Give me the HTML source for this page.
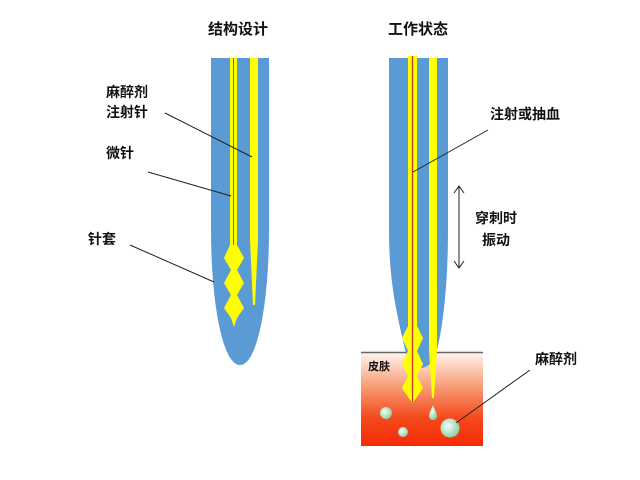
<!DOCTYPE html>
<html><head><meta charset="utf-8"><style>
html,body{margin:0;padding:0;background:#fff;width:640px;height:480px;overflow:hidden}
</style></head><body>
<svg width="640" height="480" viewBox="0 0 640 480" xmlns="http://www.w3.org/2000/svg" font-family="'Liberation Sans','Noto Sans CJK SC',sans-serif" font-weight="bold">
<defs>
<linearGradient id="skin" x1="0" y1="0" x2="0" y2="1">
<stop offset="0" stop-color="#fff6f0"/><stop offset="0.35" stop-color="#f7a07a"/><stop offset="0.7" stop-color="#f44a1c"/><stop offset="1" stop-color="#f52a05"/>
</linearGradient>
<radialGradient id="bub" cx="0.4" cy="0.4" r="0.6">
<stop offset="0" stop-color="#f4fff8"/><stop offset="1" stop-color="#8fcfa8"/>
</radialGradient>
</defs>
<text x="238" y="34" font-size="15" text-anchor="middle" fill="#111">结构设计</text>
<text x="418" y="34" font-size="15" text-anchor="middle" fill="#111">工作状态</text>

<!-- left sheath -->
<path d="M211 58 L269 58 L269 230 C269 300 258 365 240 365 C222 365 211 300 211 230 Z" fill="#5b9bd5"/>
<rect x="230" y="58" width="7" height="192" fill="#ffff00"/>
<path d="M230 245 L237 245 L244 258 L237 270 L244 283 L237 295 L244 308 L237 318 L234 327 L231 318 L224 308 L231 295 L224 283 L231 270 L224 258 Z" fill="#ffff00"/>
<line x1="233.5" y1="58" x2="233.5" y2="245" stroke="#6b7a2a" stroke-width="1"/>
<path d="M250 58 L258 58 L258 240 L255 305 L253 305 L250 240 Z" fill="#ffff00"/>

<!-- right: skin -->
<rect x="361" y="352" width="122" height="94" fill="url(#skin)"/>
<line x1="361" y1="352.5" x2="483" y2="352.5" stroke="#666" stroke-width="1.5"/>
<text x="368" y="370" font-size="11" fill="#111">皮肤</text>

<!-- right sheath -->
<path d="M389 58 L448 58 L448 230 C448 290 442 330 437 350 C434 362 428 368 420 368 C412 368 407 360 404 345 C396 310 389 280 389 230 Z" fill="#5b9bd5"/>
<rect x="408" y="56" width="9" height="275" fill="#ffff00"/>
<path d="M408 326 L417 326 L423 338 L417 351 L423 364 L417 376 L423 388 L417 397 L412.5 403 L408 397 L402 388 L408 376 L402 364 L408 351 L402 338 Z" fill="#ffff00"/>
<line x1="412.5" y1="56" x2="412.5" y2="402" stroke="#c0392b" stroke-width="1.3"/>
<path d="M429 58 L437 58 L437 350 L434 398 L432 398 L429 350 Z" fill="#ffff00"/>
<path d="M433 405 C431 410 429 413 429 416 A4 4 0 0 0 437 416 C437 413 435 410 433 405 Z" fill="url(#bub)"/>
<circle cx="386" cy="413" r="6" fill="url(#bub)"/>
<circle cx="403" cy="432" r="5" fill="url(#bub)"/>
<circle cx="450" cy="428" r="9.5" fill="url(#bub)"/>

<!-- leader lines -->
<g stroke="#222" stroke-width="1">
<line x1="165" y1="113" x2="252" y2="157"/>
<line x1="148" y1="172" x2="231" y2="196"/>
<line x1="130" y1="245" x2="214" y2="282"/>
<line x1="488" y1="130" x2="413" y2="172"/>
<line x1="530" y1="370" x2="456" y2="423"/>
<line x1="459" y1="186" x2="459" y2="268"/>
<polyline points="454,193 459,186 464,193" fill="none"/>
<polyline points="454,261 459,268 464,261" fill="none"/>
</g>

<g font-size="14" fill="#111">
<text x="106" y="97">麻醉剂</text>
<text x="106" y="117">注射针</text>
<text x="106" y="158">微针</text>
<text x="88" y="244">针套</text>
<text x="490" y="119">注射或抽血</text>
<text x="475" y="223">穿刺时</text>
<text x="482" y="245">振动</text>
<text x="535" y="364">麻醉剂</text>
</g>
</svg>
</body></html>
